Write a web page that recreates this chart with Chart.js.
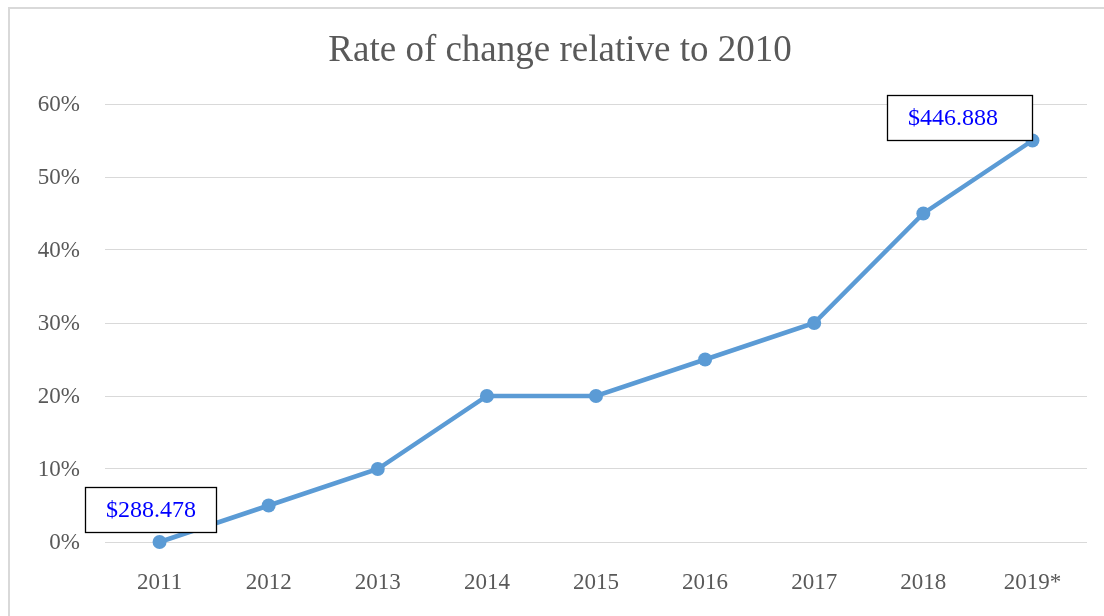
<!DOCTYPE html>
<html lang="en">
<head>
    <meta charset="UTF-8" />
    <meta name="viewport" content="width=device-width, initial-scale=1.0" />
    <script src="https://cdn.jsdelivr.net/npm/chart.js"></script>
    <title>Rate of change relative to 2010</title>
    <style>
        body {
            margin: 0;
            background: #ffffff;
            overflow: hidden;
        }

        #frame {
            position: absolute;
            left: 8px;
            top: 7px;
            width: 1200px;
            height: 700px;
            border: 2px solid #d9d9d9;
            background: #ffffff;
        }

        #myChart {
            position: absolute;
            left: 0;
            top: 0;
        }
    </style>
</head>
<body>
<div id="frame"></div>
<canvas id="myChart" width="1104" height="616"></canvas>

<script>
    // datos del grafico
    const years = ['2011', '2012', '2013', '2014', '2015', '2016', '2017', '2018', '2019*'];
    const rateOfChange = [0, 0.05, 0.10, 0.20, 0.20, 0.25, 0.30, 0.45, 0.55];
    const yTicks = [0, 0.1, 0.2, 0.3, 0.4, 0.5, 0.6];
    const calloutIndex = [0, 8];
    const calloutText = ['$288.478', '$446.888'];

    const serif = '"Liberation Serif", "Times New Roman", serif';
    const gray = '#595959';

    // cajas con el valor en dolares
    const callouts = {
        id: 'callouts',
        afterDatasetsDraw(chart) {
            const c = chart.ctx;
            const meta = chart.getDatasetMeta(0);
            const boxes = [
                { dx: -75, dy: -55, w: 131, h: 45, tx: 0 },
                { dx: -145, dy: -45, w: 145, h: 45, tx: -7 }
            ];
            c.save();
            calloutIndex.forEach((idx, i) => {
                const pt = meta.data[idx];
                const b = boxes[i];
                const x = Math.round(pt.x + b.dx) + 0.5;
                const y = Math.round(pt.y + b.dy) + 0.5;
                c.fillStyle = '#ffffff';
                c.fillRect(x, y, b.w, b.h);
                c.strokeStyle = '#000000';
                c.lineWidth = 1.3;
                c.strokeRect(x, y, b.w, b.h);
                c.fillStyle = '#0000ff';
                c.font = '24px ' + serif;
                c.textAlign = 'center';
                c.textBaseline = 'middle';
                c.fillText(calloutText[i], x + b.w / 2 + b.tx, y + b.h / 2 + 1);
            });
            c.restore();
        }
    };

    const ctx = document.getElementById('myChart').getContext('2d');

    const myChart = new Chart(ctx, {
        type: 'line',
        data: {
            labels: years,
            datasets: [{
                label: 'Rate of change',
                data: rateOfChange,
                borderColor: '#5b9bd5',
                backgroundColor: '#5b9bd5',
                borderWidth: 4.5,
                pointRadius: 7,
                pointBorderWidth: 0,
                tension: 0,
                clip: false
            }]
        },
        options: {
            responsive: false,
            animation: false,
            layout: {
                padding: { left: 33, right: 17, top: 0, bottom: 0 }
            },
            plugins: {
                legend: { display: false },
                tooltip: { enabled: false },
                title: {
                    display: true,
                    text: 'Rate of change relative to 2010',
                    color: gray,
                    font: { family: serif, size: 37, weight: 'normal' },
                    padding: { top: 29, bottom: 30.6 }
                }
            },
            scales: {
                x: {
                    offset: true,
                    grid: { display: false },
                    border: { display: false },
                    ticks: {
                        color: gray,
                        font: { family: serif, size: 23 },
                        padding: 19,
                        maxRotation: 0
                    },
                    afterFit(scale) { scale.height = 74; }
                },
                y: {
                    min: 0,
                    max: 0.6,
                    border: { display: false },
                    grid: { color: '#d9d9d9', lineWidth: 1, drawTicks: false },
                    afterBuildTicks(scale) {
                        scale.ticks = yTicks.map(v => ({ value: v }));
                    },
                    ticks: {
                        color: gray,
                        font: { family: serif, size: 23 },
                        padding: 25,
                        labelOffset: 1,
                        callback: (v) => Math.round(v * 100) + '%'
                    },
                    afterFit(scale) { scale.width = 72; }
                }
            }
        },
        plugins: [callouts]
    });
</script>
</body>
</html>
